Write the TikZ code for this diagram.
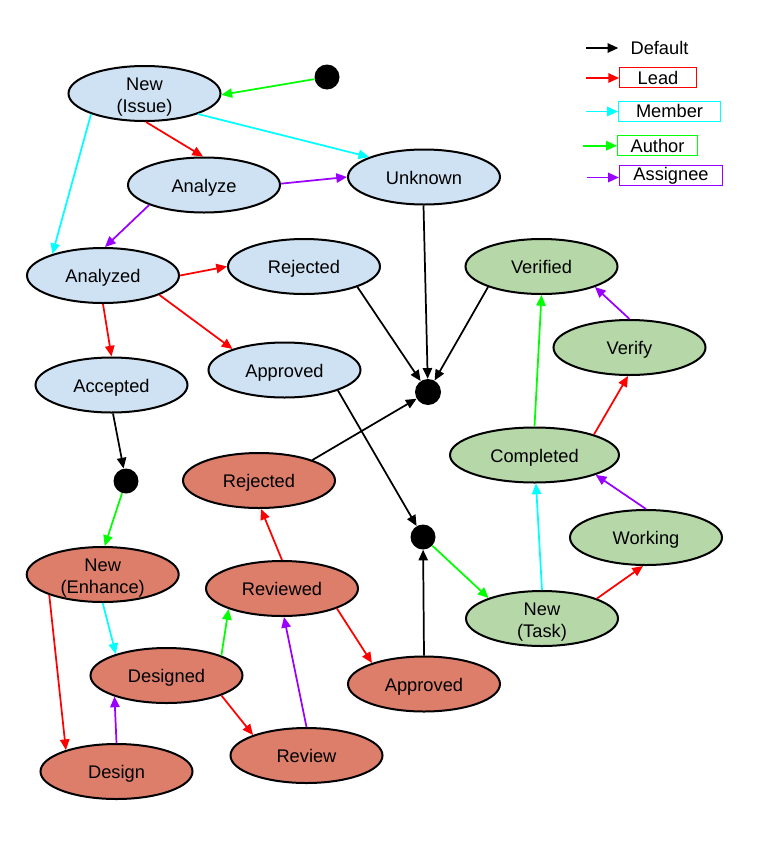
\documentclass[tikz,border=0pt]{standalone}
\usepackage{fontspec}
\setmainfont{Liberation Sans}
\usetikzlibrary{shapes.geometric,arrows.meta}
\definecolor{fillB}{HTML}{CFE2F3}
\definecolor{fillG}{HTML}{B6D7A8}
\definecolor{fillR}{HTML}{DD7E6B}
\definecolor{cRed}{HTML}{FF0000}
\definecolor{cCyan}{HTML}{00FFFF}
\definecolor{cGreen}{HTML}{00FF00}
\definecolor{cPurple}{HTML}{9900FF}
\newcommand{\twolines}[2]{\begin{tabular}{@{}c@{}}\rule{0pt}{16.6pt}#1\\#2\end{tabular}}
\begin{document}
\begin{tikzpicture}[x=0.75pt,y=-0.75pt,
  txt/.style={font=\fontsize{13.7}{16.5}\selectfont},
  stnode/.style={ellipse,draw=black,line width=1.5pt,minimum width=114pt,minimum height=41.25pt,
    inner xsep=0pt,inner ysep=-8pt,txt,
    execute at begin node={\rule{0pt}{14pt}},
    execute at end node={\rule[-3.5pt]{0pt}{3.5pt}}},
  sB/.style={stnode,fill=fillB},
  sG/.style={stnode,fill=fillG},
  sR/.style={stnode,fill=fillR},
  blackdot/.style={circle,fill=black,draw=none,minimum size=18.75pt,inner sep=0pt},
  conn/.style={line width=1.3pt,-{Triangle[length=8pt,width=7pt]}},
  kBlack/.style={conn,draw=black,fill=black},
  kRed/.style={conn,draw=cRed,fill=cRed},
  kCyan/.style={conn,draw=cCyan,fill=cCyan},
  kGreen/.style={conn,draw=cGreen,fill=cGreen},
  kPurple/.style={conn,draw=cPurple,fill=cPurple},
  lbox/.style={draw,line width=0.9pt,inner sep=0pt,minimum height=15pt,txt},
]
\fill[white] (0,0) rectangle (760,850);
\useasboundingbox (0,0) rectangle (760,850);

% ---- nodes ----
\node[blackdot] (d1) at (327,77) {};
\node[sB] (issue) at (144.5,93.5) {\twolines{New}{(Issue)}};
\node[sB] (analyze) at (204,185) {Analyze};
\node[sB] (unknown) at (424,177) {Unknown};
\node[sB] (analyzed) at (103,275.5) {Analyzed};
\node[sB] (rejB) at (304,266.5) {Rejected};
\node[sB] (accepted) at (111.5,385) {Accepted};
\node[sB] (apprB) at (284.5,370) {Approved};
\node[blackdot,minimum size=19.5pt] (fin) at (428,392) {};
\node[sG] (verified) at (541.5,266.5) {Verified};
\node[sG] (verify) at (629.5,347.5) {Verify};
\node[sG,minimum width=126.75pt] (completed) at (534.5,455) {Completed};
\node[sG] (working) at (646,537.5) {Working};
\node[sG] (newT) at (542,618.5) {\twolines{New}{(Task)}};
\node[blackdot] (d2) at (126,481) {};
\node[blackdot] (d3) at (423,537) {};
\node[sR] (rejR) at (259,480.5) {Rejected};
\node[sR] (newE) at (102.7,574.5) {\twolines{New}{(Enhance)}};
\node[sR] (reviewed) at (282,588.5) {Reviewed};
\node[sR] (designed) at (166.5,675.5) {Designed};
\node[sR] (apprR) at (424,684) {Approved};
\node[sR] (design) at (116.5,771.5) {Design};
\node[sR] (review) at (306.5,755.5) {Review};

% ---- connectors ----
\draw[kGreen] (d1) -- (issue.-1);
\draw[kRed] (issue.-87) -- (analyze.92);
\draw[kCyan] (issue.-21) -- (unknown.160);
\draw[kCyan] (issue.201.5) -- (analyzed.157.4);
\draw[kPurple] (analyze.1) -- (unknown.180);
\draw[kPurple] (analyze.200) -- (analyzed.86);
\draw[kRed] (analyzed.0) -- (rejB.180);
\draw[kRed] (analyzed.-19.5) -- (apprB.158.4);
\draw[kRed] (analyzed.-90) -- (accepted.90);
\draw[kBlack] (accepted.-87) -- (d2);
\draw[kGreen] (d2) -- (newE.86);
\draw[kBlack] (unknown.-91) -- (fin);
\draw[kBlack] (rejB.-21.7) -- (fin);
\draw[kBlack] (verified.201.5) -- (fin);
\draw[kBlack] (rejR.21) -- (fin);
\draw[kBlack] (apprB.-21) -- (d3);
\draw[kBlack] (apprR.90) -- (d3);
\draw[kGreen] (d3) -- (newT.159.3);
\draw[kRed] (newT.20.4) -- (working.264);
\draw[kCyan] (newT.90) -- (completed.-87);
\draw[kPurple] (working.90) -- (completed.-18.6);
\draw[kRed] (completed.19.1) -- (verify.-93);
\draw[kGreen] (completed.90) -- (verified.-90);
\draw[kPurple] (verify.90) -- (verified.-21.2);
\draw[kRed] (reviewed.90) -- (rejR.-86);
\draw[kRed] (reviewed.-20.4) -- (apprR.158.6);
\draw[kGreen] (designed.20.3) -- (reviewed.201.7);
\draw[kPurple] (review.90) -- (reviewed.-86);
\draw[kRed] (designed.-20.3) -- (review.159.4);
\draw[kCyan] (newE.-90) -- (designed.157.6);
\draw[kRed] (newE.201) -- (design.157.6);
\draw[kPurple] (design.90) -- (designed.202.3);

% ---- legend ----
\node[txt,inner sep=0pt] (lgDef) at (659.5,48) {Default};
\node[lbox,draw=cRed,minimum width=57.5pt] (lgLead) at (658,77.8) {Lead};
\node[lbox,draw=cCyan,minimum width=76.5pt] (lgMember) at (669.5,111.2) {Member};
\node[lbox,draw=cGreen,minimum width=60pt] (lgAuthor) at (657.5,145.8) {Author};
\node[lbox,draw=cPurple,minimum width=77.3pt] (lgAssignee) at (671,175.8) {Assignee};
\coordinate (lg0) at (586,48);
\coordinate (lg1) at (586,78);
\coordinate (lg2) at (586,111.5);
\coordinate (lg3) at (583,145.7);
\coordinate (lg4) at (587,177.5);
\draw[kBlack,shorten >=9pt] (lg0) -- (lg0 -| lgDef.west);
\draw[kRed] (lg1) -- (lg1 -| lgLead.west);
\draw[kCyan] (lg2) -- (lg2 -| lgMember.west);
\draw[kGreen] (lg3) -- (lg3 -| lgAuthor.west);
\draw[kPurple] (lg4) -- (lg4 -| lgAssignee.west);
\end{tikzpicture}
\end{document}
